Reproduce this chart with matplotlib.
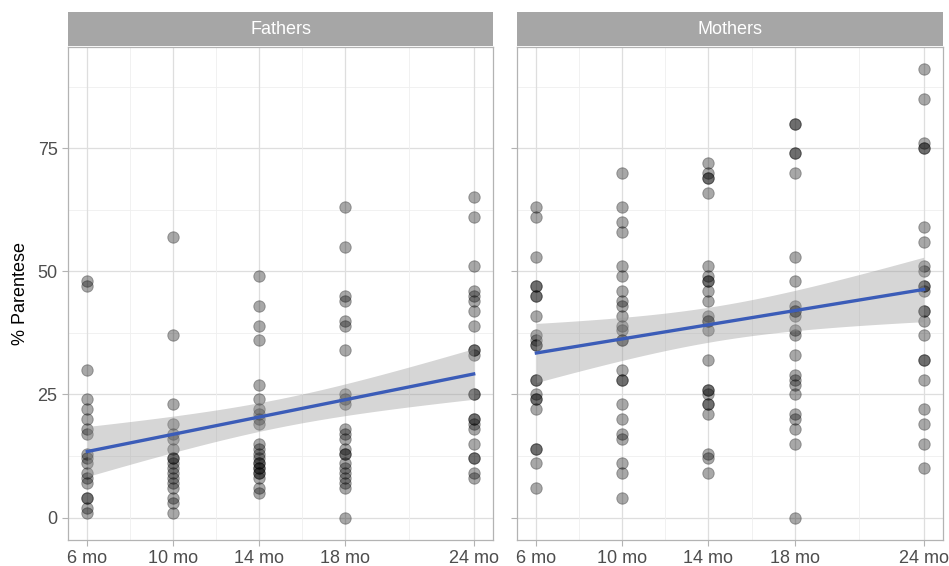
import numpy as np
import matplotlib
matplotlib.use("Agg")
import matplotlib.pyplot as plt

plt.rcParams['font.family'] = ['Liberation Sans', 'DejaVu Sans']

# ---- data ----
panels = ["Fathers", "Mothers"]
x_ticks = [6, 10, 14, 18, 24]
x_labels = ["6 mo", "10 mo", "14 mo", "18 mo", "24 mo"]
y_ticks = [0, 25, 50, 75]

fathers_6 = [48, 47, 30, 24, 22, 20, 18, 17, 13, 12, 11, 9, 8, 7, 4, 4, 2, 1]
fathers_10 = [57, 37, 23, 19, 17, 16, 14, 12, 12, 11, 10, 9, 8, 7, 6, 4, 3, 1]
fathers_14 = [49, 43, 39, 36, 27, 24, 22, 21, 20, 19, 15, 14, 13, 12, 11, 11,
              10, 10, 9, 9, 8, 6, 5]
fathers_18 = [63, 55, 45, 44, 40, 39, 34, 25, 24, 23, 18, 17, 16, 14, 13, 13,
              11, 10, 9, 8, 7, 6, 0]
fathers_24 = [65, 61, 51, 46, 45, 44, 42, 39, 34, 34, 33, 25, 25, 20, 20, 19,
              18, 15, 12, 12, 9, 8]

mothers_6 = [63, 61, 53, 47, 47, 45, 45, 41, 37, 36, 35, 35, 28, 28, 25, 24,
             24, 22, 14, 14, 11, 6]
mothers_10 = [70, 63, 60, 58, 51, 49, 46, 44, 43, 41, 39, 38, 36, 36, 30, 28,
              28, 23, 20, 17, 16, 11, 9, 4]
mothers_14 = [72, 70, 69, 69, 66, 51, 49, 48, 48, 46, 44, 41, 40, 40, 38, 32,
              26, 26, 25, 23, 23, 21, 13, 12, 9]
mothers_18 = [80, 80, 74, 74, 70, 53, 48, 43, 42, 42, 41, 38, 37, 33, 29, 28,
              27, 25, 21, 20, 18, 15, 0]
mothers_24 = [91, 85, 76, 75, 75, 59, 56, 51, 50, 47, 47, 46, 42, 42, 40, 37,
              32, 32, 28, 22, 19, 15, 10]

data = {
    "Fathers": [fathers_6, fathers_10, fathers_14, fathers_18, fathers_24],
    "Mothers": [mothers_6, mothers_10, mothers_14, mothers_18, mothers_24],
}


def t975(df):
    z = 1.959963985
    return (z + (z**3 + z) / (4 * df)
            + (5 * z**5 + 16 * z**3 + 3 * z) / (96 * df**2))


W, H = 949, 566
fig = plt.figure(figsize=(W / 100, H / 100), dpi=100)

panel_px = [(68, 493), (517, 943)]
top_px, bot_px = 47, 540
strip_top, strip_bot = 12, 46

grey_axis = "#B3B3B3"
text_col = "#4D4D4D"

for i, name in enumerate(panels):
    x0, x1 = panel_px[i]
    ax = fig.add_axes([x0 / W, (H - bot_px) / H, (x1 - x0) / W, (bot_px - top_px) / H])
    sax = fig.add_axes([x0 / W, (H - strip_bot) / H, (x1 - x0) / W, (strip_bot - strip_top) / H])
    sax.set_facecolor("#A6A6A6")
    sax.set_xticks([]); sax.set_yticks([])
    for s in sax.spines.values():
        s.set_visible(False)
    sax.text(0.5, 0.5, name, color="white", fontsize=13, ha="center", va="center",
             transform=sax.transAxes)

    xs, ys = [], []
    for xv, vals in zip(x_ticks, data[name]):
        xs += [xv] * len(vals)
        ys += vals
    xs = np.array(xs, float); ys = np.array(ys, float)

    # linear fit + 95% CI
    n = len(xs)
    b1, b0 = np.polyfit(xs, ys, 1)
    resid = ys - (b0 + b1 * xs)
    s = np.sqrt(np.sum(resid**2) / (n - 2))
    xg = np.linspace(xs.min(), xs.max(), 100)
    se = s * np.sqrt(1 / n + (xg - xs.mean())**2 / np.sum((xs - xs.mean())**2))
    yg = b0 + b1 * xg
    t = t975(n - 2)

    # grid
    for yv in y_ticks:
        ax.axhline(yv, color="#DEDEDE", lw=0.9, zorder=0)
    for yv in [12.5, 37.5, 62.5, 87.5]:
        ax.axhline(yv, color="#EFEFEF", lw=0.6, zorder=0)
    for xv in x_ticks:
        ax.axvline(xv, color="#DEDEDE", lw=0.9, zorder=0)
    for a, b in zip(x_ticks[:-1], x_ticks[1:]):
        ax.axvline((a + b) / 2, color="#EFEFEF", lw=0.6, zorder=0)

    ax.scatter(xs, ys, s=68, facecolor=(0, 0, 0, 0.34), edgecolor=(0, 0, 0, 0.3),
               linewidths=0.7, zorder=2)
    ax.fill_between(xg, yg - t * se, yg + t * se, color="#999999", alpha=0.4,
                    lw=0, zorder=3)
    ax.plot(xg, yg, color="#3B5CB8", lw=2.4, zorder=4)

    ax.set_xlim(5.1, 24.9)
    ax.set_ylim(-4.55, 95.55)
    ax.set_xticks(x_ticks)
    ax.set_xticklabels(x_labels)
    ax.set_yticks(y_ticks)
    if i == 0:
        ax.set_yticklabels([str(v) for v in y_ticks])
        ax.set_ylabel("% Parentese", fontsize=13, color="black", labelpad=6)
    else:
        ax.set_yticklabels([])
    ax.tick_params(axis="both", colors=grey_axis, labelcolor=text_col, labelsize=13,
                   length=4, width=0.8)
    ax.tick_params(axis="x", pad=3)
    for sp in ax.spines.values():
        sp.set_color(grey_axis)
        sp.set_linewidth(0.9)

fig.savefig("out.png", dpi=100)
